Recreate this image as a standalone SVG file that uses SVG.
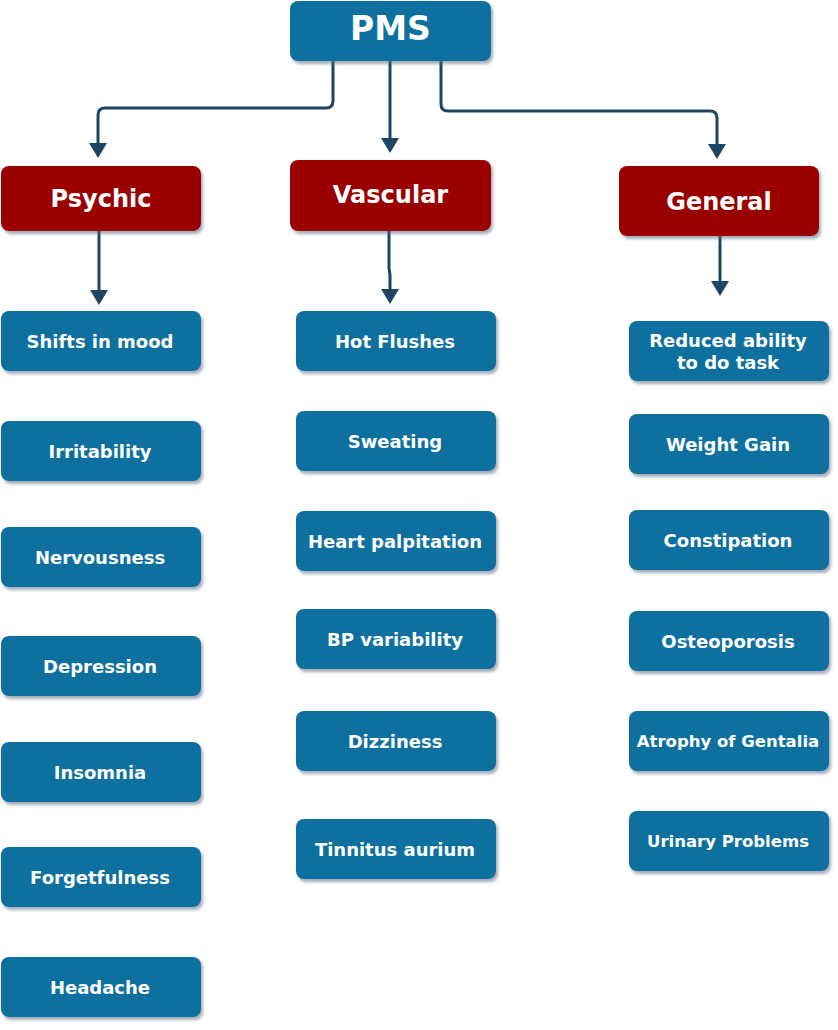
<svg xmlns="http://www.w3.org/2000/svg" width="838" height="1030" viewBox="0 0 838 1030">
<defs>
<filter id="sh" x="-10%" y="-10%" width="130%" height="140%">
<feDropShadow dx="2" dy="3" stdDeviation="1.5" flood-color="#5a6a80" flood-opacity="0.55"/>
</filter>
<marker id="ah" markerWidth="6" markerHeight="6" refX="4" refY="3" orient="auto" markerUnits="strokeWidth">
<path d="M0,0 L5,3 L0,6 Z" fill="#1e4564"/>
</marker>
<style>
.b{fill:#10709e;filter:url(#sh)}
.r{fill:#9b0000;filter:url(#sh)}
text{font-family:"DejaVu Sans","Verdana",sans-serif;font-weight:bold;fill:#ffffff;text-anchor:middle;dominant-baseline:central}
.t{font-size:18px}
.h{font-size:24px}
.c{fill:none;stroke:#1e4564;stroke-width:3;marker-end:url(#ah)}
</style>
</defs>
<rect width="838" height="1030" fill="#ffffff"/>
<g id="connectors">
<path class="c" d="M333,61 V101 Q333,108 326,108 H105 Q98,108 98,115 V155"/>
<path class="c" d="M390,61 V150"/>
<path class="c" d="M441,61 V104 Q441,111 448,111 H710 Q717,111 717,118 V156"/>
<path class="c" d="M99,231 V302"/>
<path class="c" d="M389,231 V268 L390,275 V301"/>
<path class="c" d="M720,236 V293"/>
</g>
<g id="pms"><rect class="b" x="290" y="1" width="201" height="60" rx="8"/><text x="390.5" y="28" style="font-size:33px">PMS</text></g>
<g id="psychic"><rect class="r" x="1" y="166" width="200" height="65" rx="8"/><text class="h" x="101" y="199">Psychic</text></g>
<g id="vascular"><rect class="r" x="290" y="160" width="201" height="71" rx="8"/><text class="h" x="390.5" y="195">Vascular</text></g>
<g id="general"><rect class="r" x="619" y="166" width="200" height="70" rx="8"/><text class="h" x="719" y="202">General</text></g>

<g id="shifts"><rect class="b" x="1" y="311" width="200" height="60" rx="8"/><text class="t" x="100" y="341">Shifts in mood</text></g>
<g id="irritability"><rect class="b" x="1" y="421" width="200" height="60" rx="8"/><text class="t" x="100" y="451">Irritability</text></g>
<g id="nervousness"><rect class="b" x="1" y="527" width="200" height="60" rx="8"/><text class="t" x="100" y="557">Nervousness</text></g>
<g id="depression"><rect class="b" x="1" y="636" width="200" height="60" rx="8"/><text class="t" x="100" y="666">Depression</text></g>
<g id="insomnia"><rect class="b" x="1" y="742" width="200" height="60" rx="8"/><text class="t" x="100" y="772">Insomnia</text></g>
<g id="forgetfulness"><rect class="b" x="1" y="847" width="200" height="60" rx="8"/><text class="t" x="100" y="877">Forgetfulness</text></g>
<g id="headache"><rect class="b" x="1" y="957" width="200" height="60" rx="8"/><text class="t" x="100" y="987">Headache</text></g>

<g id="hotflushes"><rect class="b" x="296" y="311" width="200" height="60" rx="8"/><text class="t" x="395" y="341">Hot Flushes</text></g>
<g id="sweating"><rect class="b" x="296" y="411" width="200" height="60" rx="8"/><text class="t" x="395" y="441">Sweating</text></g>
<g id="heart"><rect class="b" x="296" y="511" width="200" height="60" rx="8"/><text class="t" x="395" y="541">Heart palpitation</text></g>
<g id="bp"><rect class="b" x="296" y="609" width="200" height="60" rx="8"/><text class="t" x="395" y="639">BP variability</text></g>
<g id="dizziness"><rect class="b" x="296" y="711" width="200" height="60" rx="8"/><text class="t" x="395" y="741">Dizziness</text></g>
<g id="tinnitus"><rect class="b" x="296" y="819" width="200" height="60" rx="8"/><text class="t" x="395" y="849">Tinnitus aurium</text></g>

<g id="reduced"><rect class="b" x="629" y="321" width="200" height="60" rx="8"/><text class="t" x="728" y="340">Reduced ability</text><text class="t" x="728" y="362">to do task</text></g>
<g id="weight"><rect class="b" x="629" y="414" width="200" height="60" rx="8"/><text class="t" x="728" y="444">Weight Gain</text></g>
<g id="constipation"><rect class="b" x="629" y="510" width="200" height="60" rx="8"/><text class="t" x="728" y="540">Constipation</text></g>
<g id="osteoporosis"><rect class="b" x="629" y="611" width="200" height="60" rx="8"/><text class="t" x="728" y="641">Osteoporosis</text></g>
<g id="atrophy"><rect class="b" x="629" y="711" width="200" height="60" rx="8"/><text class="t" x="728" y="741" style="font-size:16.5px">Atrophy of Gentalia</text></g>
<g id="urinary"><rect class="b" x="629" y="811" width="200" height="60" rx="8"/><text class="t" x="728" y="841" style="font-size:16.5px">Urinary Problems</text></g>
</svg>
